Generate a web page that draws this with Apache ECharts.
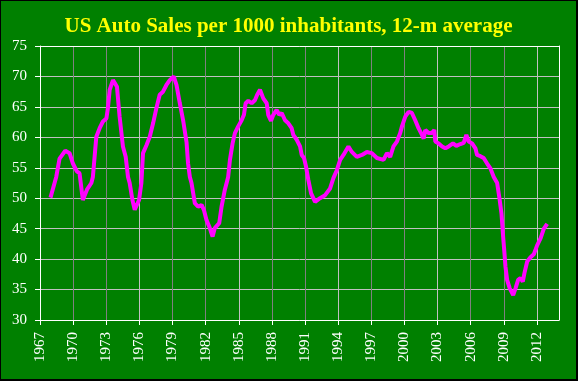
<!DOCTYPE html>
<html>
<head>
<meta charset="utf-8">
<script src="https://cdn.jsdelivr.net/npm/echarts@6/dist/echarts.min.js"></script>
<style>
html,body{margin:0;padding:0;background:#000;}
#wrap{width:578px;height:381px;box-sizing:border-box;border-style:solid;border-color:#000;border-width:1px 2px 2px 1px;background:#008000;}
#chart{width:575px;height:378px;}
</style>
</head>
<body>
<div id="wrap"><div id="chart"></div></div>
<script>
var titleText = 'US Auto Sales per 1000 inhabitants, 12-m average';
var xTickLabels = [1967, 1970, 1973, 1976, 1979, 1982, 1985, 1988, 1991, 1994, 1997, 2000, 2003, 2006, 2009, 2012];
var yTicks = [30, 35, 40, 45, 50, 55, 60, 65, 70, 75];
var years = [1967.95, 1968.47, 1968.77, 1969.29, 1969.68, 1969.98, 1970.34, 1970.58, 1970.88, 1971.25, 1971.65, 1971.79, 1972.10, 1972.40, 1972.70, 1973.01, 1973.15, 1973.31, 1973.61, 1973.76, 1973.97, 1974.21, 1974.51, 1974.76, 1974.97, 1975.12, 1975.37, 1975.58, 1975.73, 1975.97, 1976.18, 1976.33, 1976.64, 1976.94, 1977.24, 1977.54, 1977.84, 1978.14, 1978.45, 1978.75, 1979.11, 1979.36, 1979.66, 1979.96, 1980.27, 1980.41, 1980.57, 1980.72, 1981.02, 1981.32, 1981.63, 1981.84, 1982.08, 1982.38, 1982.63, 1982.83, 1983.23, 1983.44, 1983.74, 1984.04, 1984.20, 1984.44, 1984.65, 1984.95, 1985.26, 1985.47, 1985.62, 1985.86, 1986.17, 1986.46, 1986.67, 1986.92, 1987.22, 1987.53, 1987.67, 1987.92, 1988.13, 1988.43, 1988.67, 1988.89, 1989.19, 1989.49, 1989.79, 1989.94, 1990.25, 1990.55, 1990.70, 1990.91, 1991.09, 1991.30, 1991.55, 1991.91, 1992.36, 1992.82, 1993.27, 1993.57, 1993.88, 1994.18, 1994.48, 1994.93, 1995.24, 1995.69, 1996.15, 1996.60, 1997.05, 1997.51, 1998.11, 1998.42, 1998.71, 1999.01, 1999.32, 1999.62, 1999.78, 2000.08, 2000.38, 2000.68, 2000.98, 2001.28, 2001.59, 2001.74, 2001.89, 2002.19, 2002.50, 2002.71, 2002.80, 2003.10, 2003.41, 2003.71, 2004.01, 2004.40, 2004.70, 2005.07, 2005.37, 2005.61, 2005.82, 2006.13, 2006.43, 2006.58, 2006.88, 2007.18, 2007.49, 2007.79, 2008.09, 2008.40, 2008.63, 2008.79, 2008.94, 2009.06, 2009.15, 2009.30, 2009.54, 2009.85, 2010.06, 2010.30, 2010.51, 2010.72, 2010.87, 2011.12, 2011.42, 2011.72, 2012.03, 2012.33, 2012.63, 2012.93];
var sales = [50.1, 53.5, 56.5, 57.8, 57.4, 55.7, 54.4, 54.1, 49.7, 51.4, 52.5, 53.5, 60.1, 61.5, 62.6, 63.1, 64.8, 67.8, 69.4, 69.7, 68.3, 63.4, 58.5, 56.8, 53.5, 52.5, 49.7, 48.1, 47.8, 49.7, 52.5, 57.4, 58.7, 60.1, 62.3, 64.8, 67.0, 67.5, 68.6, 69.4, 70.0, 68.6, 65.6, 62.8, 59.2, 55.7, 53.5, 52.5, 49.2, 48.6, 48.9, 48.1, 46.4, 45.1, 43.7, 45.1, 45.9, 48.6, 51.4, 53.5, 56.3, 59.0, 60.7, 61.8, 62.8, 63.7, 65.6, 66.0, 65.6, 66.1, 67.0, 67.8, 66.4, 65.6, 63.7, 62.7, 63.7, 64.5, 63.7, 64.0, 62.8, 62.3, 61.5, 60.4, 59.6, 58.5, 57.1, 56.6, 55.2, 53.0, 50.8, 49.4, 50.0, 50.5, 51.6, 53.3, 54.6, 56.3, 57.1, 58.5, 57.6, 56.8, 57.1, 57.6, 57.4, 56.6, 56.3, 57.4, 56.8, 58.5, 59.3, 60.7, 61.8, 63.4, 64.2, 64.0, 62.8, 61.5, 60.4, 59.8, 61.2, 60.7, 60.7, 61.2, 59.3, 59.0, 58.5, 58.2, 58.5, 59.0, 58.6, 58.9, 59.1, 60.4, 59.3, 59.0, 58.2, 57.1, 56.9, 56.6, 55.7, 54.9, 53.5, 52.5, 49.7, 47.5, 43.7, 41.0, 38.8, 36.6, 35.2, 34.1, 35.2, 36.6, 36.9, 36.3, 37.7, 39.6, 40.3, 40.8, 42.3, 43.4, 45.0, 45.8];

var seriesData = years.map(function (y, i) { return [y, sales[i]]; });
var labelFont = { color: '#ffffff', fontFamily: 'Liberation Serif', fontSize: 15 };

var chart = echarts.init(document.getElementById('chart'), null, { renderer: 'canvas' });
chart.setOption({
  backgroundColor: '#008000',
  animation: false,
  title: {
    text: titleText,
    left: 'center',
    top: 15,
    padding: 0,
    textStyle: { color: '#ffff00', fontFamily: 'Liberation Serif', fontWeight: 'bold', fontSize: 21 }
  },
  grid: { left: 39, top: 45, right: 17, bottom: 59, containLabel: false },
  xAxis: [{
    type: 'value',
    min: xTickLabels[0],
    max: 2014,
    interval: 1,
    axisLine: { show: true, lineStyle: { color: '#ffffff', width: 1 } },
    axisTick: { show: true, length: 5, lineStyle: { color: '#ffffff' }, customValues: xTickLabels },
    axisLabel: Object.assign({ rotate: 90, margin: 12, customValues: xTickLabels, formatter: function (v) { return String(v); } }, labelFont),
    splitLine: { show: true, lineStyle: { color: ['#c0c0c0', '#808080', '#808080'], width: 1 } }
  }, {
    type: 'value',
    position: 'top',
    min: xTickLabels[0],
    max: 2014,
    interval: 1,
    z: 5,
    axisLine: { show: true, onZero: false, lineStyle: { color: '#ffffff', width: 1 } },
    axisTick: { show: false },
    axisLabel: { show: false },
    splitLine: { show: false }
  }],
  yAxis: [{
    type: 'value',
    min: yTicks[0],
    max: yTicks[yTicks.length - 1],
    interval: 5,
    axisLine: { show: true, lineStyle: { color: '#ffffff', width: 1 } },
    axisTick: { show: true, length: 5, lineStyle: { color: '#ffffff' } },
    axisLabel: Object.assign({ margin: 13 }, labelFont),
    splitLine: { show: true, lineStyle: { color: '#c0c0c0', width: 1 } }
  }, {
    type: 'value',
    position: 'right',
    min: yTicks[0],
    max: yTicks[yTicks.length - 1],
    interval: 5,
    z: 5,
    axisLine: { show: true, onZero: false, lineStyle: { color: '#ffffff', width: 1 } },
    axisTick: { show: false },
    axisLabel: { show: false },
    splitLine: { show: false }
  }],
  series: [{
    type: 'line',
    xAxisIndex: 0,
    yAxisIndex: 0,
    data: seriesData,
    showSymbol: false,
    symbol: 'none',
    lineStyle: { color: '#ff00ff', width: 4 },
    z: 10
  }]
});
</script>
</body>
</html>
